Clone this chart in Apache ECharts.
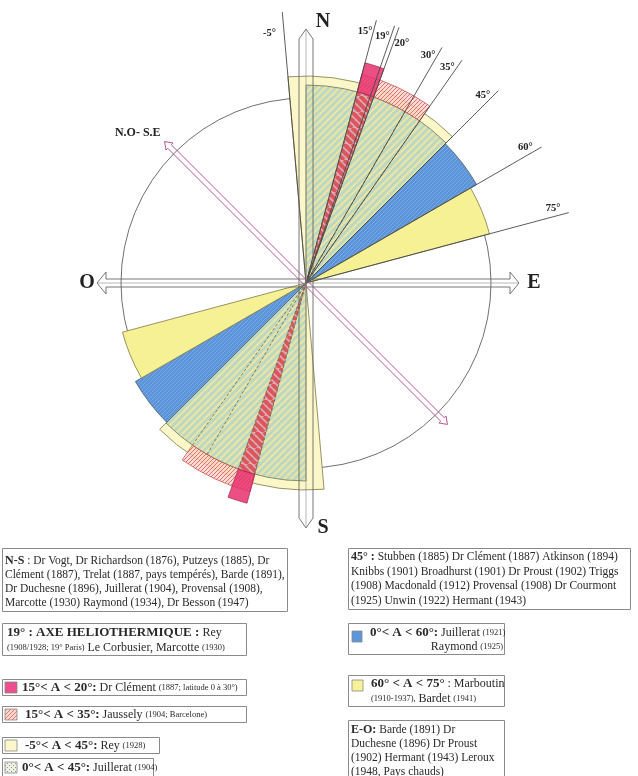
<!DOCTYPE html>
<html><head><meta charset="utf-8">
<script src="https://cdn.jsdelivr.net/npm/echarts@6/dist/echarts.min.js"></script>
<style>html,body{margin:0;padding:0;background:#fff}#c{width:638px;height:776px}</style>
</head><body><div id="c"></div>
<script>
// ---------- DATA (angles: degrees from north, clockwise; radii: radius-axis units) ----------
const sectorNames = ['Rey (1928)', 'Juillerat (1904)', 'Juillerat (1921), Raymond (1925)', 'Marboutin, Bardet', 'Jaussely (1904)', 'Dr Clément (1887)', 'Dr Clément (1887)'];
const sectorStart = [-5, 0, 45, 60, 15, 15, 15];
const sectorEnd   = [45, 45, 60, 75, 35, 20, 20];
const sectorInner = [0, 0, 0, 0, 198, 0, 198];
const sectorOuter = [207, 198, 197, 190, 216, 198, 228];
const rayAngles = [-5, 15, 19, 20, 30, 35, 45, 60, 75];
const rayLabels = ['-5°', '15°', '19°', '20°', '30°', '35°', '45°', '60°', '75°'];
const rayLength = 272;
const dashedAngles = [15, 20, 30, 35];
const dashedLength = 198;
const circleRadius = 185;
const compassAngles = [0, 90, 180, 270];
const compassLabels = ['N', 'E', 'S', 'O'];
const compassLengths = [254, 213, 245, 209];
const diagAngles = [315, 135];
const diagLabels = ['N.O- S.E', ''];
const diagLength = 200;

const legendLeft = [
  '{b|N-S} : Dr Vogt, Dr Richardson (1876), Putzeys (1885), Dr\nClément (1887), Trelat (1887, pays tempérés), Barde (1891),\nDr Duchesne (1896), Juillerat (1904), Provensal (1908),\nMarcotte (1930) Raymond (1934), Dr Besson (1947)',
  '{B|19° : AXE HELIOTHERMIQUE : }{t|Rey}\n{s|(1908/1928; 19° Paris)} {t|Le Corbusier, Marcotte} {s|(1930)}',
  '{B|15°< A < 20°:} {t|Dr Clément} {s|(1887; latitude 0 à 30°)}',
  '{B|15°< A < 35°:} {t|Jaussely} {s|(1904; Barcelone)}',
  '{B|-5°< A < 45°:} {t|Rey} {s|(1928)}',
  '{B|0°< A < 45°:} {t|Juillerat} {s|(1904)}'
];
const legendRight = [
  '{b|45° :} Stubben (1885) Dr Clément (1887) Atkinson (1894)\nKnibbs (1901) Broadhurst (1901) Dr Proust (1902) Triggs\n(1908) Macdonald (1912) Provensal (1908) Dr Courmont\n(1925) Unwin (1922) Hermant (1943)',
  '{B|0°< A < 60°:} {t|Juillerat} {s|(1921)}',
  '{t|Raymond} {s|(1925)}',
  '{B|60° < A < 75°} {t|: Marboutin}',
  '{s|(1910-1937),} {t|Bardet} {s|(1941)}',
  '{b|E-O:} Barde (1891) Dr\nDuchesne (1896) Dr Proust\n(1902) Hermant (1943) Leroux\n(1948, Pays chauds)'
];

// ---------- STYLE HELPERS ----------
const FONT = '"Liberation Serif", "Times New Roman", serif';
function makePattern(s, bg, color, lw, step, dir) {
  const c = document.createElement('canvas');
  c.width = s; c.height = s;
  const g = c.getContext('2d');
  g.fillStyle = bg; g.fillRect(0, 0, s, s);
  g.strokeStyle = color; g.lineWidth = lw;
  g.beginPath();
  if (dir === '/') {
    for (let k = -step; k <= 2 * s + step; k += step) { g.moveTo(k, 0); g.lineTo(k - s, s); }
  } else {
    for (let k = -s - step; k <= s + step; k += step) { g.moveTo(k, 0); g.lineTo(k + s, s); }
  }
  g.stroke();
  return { image: c, repeat: 'repeat' };
}
function makeDots(s, bg, color) {
  const c = document.createElement('canvas');
  c.width = s; c.height = s;
  const g = c.getContext('2d');
  g.fillStyle = bg; g.fillRect(0, 0, s, s);
  g.fillStyle = color;
  g.fillRect(1, 1, 1, 1); g.fillRect(3, 3, 1, 1);
  return { image: c, repeat: 'repeat' };
}
const greenPat = makePattern(14, '#bdd7c5', '#ebe6a0', 2, 7, '/');
const bluePat = makePattern(8, '#5b94d8', '#7eaee6', 0.8, 4, '/');
const redPat = makePattern(16, 'rgba(226,140,175,0.75)', 'rgba(222,52,68,0.9)', 4, 8, '\\');
const jausPat = makePattern(8, 'rgba(251,208,196,0.85)', '#de6464', 1, 4, '/');
const sectorStyles = [
  { fill: '#fbf7c8', stroke: '#8d8755', lineWidth: 0.9 },
  { fill: greenPat, stroke: '#707a55', lineWidth: 0.8 },
  { fill: bluePat, stroke: '#4d5a66', lineWidth: 0.8 },
  { fill: '#f7f195', stroke: '#8d8755', lineWidth: 0.9 },
  { fill: jausPat, stroke: '#c05050', lineWidth: 0.8, opacity: 0.9 },
  { fill: redPat, stroke: '#8a6a40', lineWidth: 0.7, opacity: 0.85, lineDash: [2, 2] },
  { fill: '#e8316f', stroke: '#a02050', lineWidth: 0.8, opacity: 0.85 }
];
const norm = a => ((a % 360) + 360) % 360;

function screenAngle(api, c, a) {
  const p = api.coord([rayLength, norm(a)]);
  return Math.atan2(p[1] - c[1], p[0] - c[0]);
}
function radPx(api, c, r) {
  const p = api.coord([r, 0]);
  return Math.hypot(p[0] - c[0], p[1] - c[1]);
}

// ---------- RENDERERS ----------
function renderCircle(params, api) {
  const c = api.coord([0, 0]);
  return { type: 'circle', shape: { cx: c[0], cy: c[1], r: radPx(api, c, api.value(0)) },
    style: { fill: 'none', stroke: '#707070', lineWidth: 1 } };
}
function renderSector(params, api) {
  const i = params.dataIndex;
  const c = api.coord([0, 0]);
  const a0 = api.value(0), a1 = api.value(1);
  const r0 = radPx(api, c, api.value(2)), r1 = radPx(api, c, api.value(3));
  const children = [0, 180].map(off => {
    const sa = screenAngle(api, c, a0 + off);
    let ea = screenAngle(api, c, a1 + off);
    if (ea <= sa) ea += 2 * Math.PI;
    return { type: 'sector', shape: { cx: c[0], cy: c[1], r0: r0, r: r1, startAngle: sa, endAngle: ea, clockwise: true },
      style: Object.assign({}, sectorStyles[i]) };
  });
  return { type: 'group', children };
}
function renderDashed(params, api) {
  const c = api.coord([0, 0]);
  const a = api.value(0);
  return { type: 'group', children: [0, 180].map(off => {
    const p = api.coord([dashedLength, norm(a + off)]);
    return { type: 'line', shape: { x1: c[0], y1: c[1], x2: p[0], y2: p[1] },
      style: { stroke: '#6d6a45', lineWidth: 0.8, lineDash: [3, 2] } };
  }) };
}
function renderRay(params, api) {
  const i = params.dataIndex;
  const c = api.coord([0, 0]);
  const a = api.value(0);
  const p = api.coord([rayLength, norm(a)]);
  const q = api.coord([258, norm(a)]);
  const t = a * Math.PI / 180;
  const side = rayLabels[i] === '20°' ? -1 : 1;
  const off = rayLabels[i] === '-5°' ? 14 : 8;
  const lx = q[0] - side * Math.cos(t) * off, ly = q[1] - side * Math.sin(t) * off + (rayLabels[i] === '-5°' ? 6 : 0);
  return { type: 'group', children: [
    { type: 'line', shape: { x1: c[0], y1: c[1], x2: p[0], y2: p[1] }, style: { stroke: '#4a4a4a', lineWidth: 0.9 } },
    { type: 'text', x: lx, y: ly, style: { text: rayLabels[i], fill: '#222', fontFamily: FONT, fontWeight: 'bold', fontSize: 10.5,
      align: 'center', verticalAlign: 'middle', textAlign: 'center', textVerticalAlign: 'middle' } }
  ] };
}
function arrowHalf(c, tip, w, hw, hl, pencil) {
  const dx = tip[0] - c[0], dy = tip[1] - c[1];
  const L = Math.hypot(dx, dy), ux = dx / L, uy = dy / L, nx = -uy, ny = ux;
  const bx = tip[0] - ux * hl, by = tip[1] - uy * hl;
  const pts = [[c[0] + nx * w, c[1] + ny * w], [bx + nx * w, by + ny * w]];
  if (!pencil) pts.push([bx + nx * hw, by + ny * hw]);
  pts.push([tip[0], tip[1]]);
  if (!pencil) pts.push([bx - nx * hw, by - ny * hw]);
  pts.push([bx - nx * w, by - ny * w], [c[0] - nx * w, c[1] - ny * w]);
  return pts;
}
function renderCompass(params, api) {
  const i = params.dataIndex;
  const c = api.coord([0, 0]);
  const a = api.value(0);
  const tip = api.coord([api.value(1), norm(a)]);
  const vertical = (a % 180) === 0;
  const pts = vertical ? arrowHalf(c, tip, 7, 7, 10, true) : arrowHalf(c, tip, 4, 11, 9, false);
  let lx, ly, al = 'center';
  if (vertical) { lx = tip[0] + 17; ly = tip[1] + (a === 0 ? -7 : 0); }
  else { lx = tip[0] + (a === 90 ? 15 : -10); ly = tip[1]; }
  return { type: 'group', children: [
    { type: 'polyline', shape: { points: pts }, style: { fill: null, stroke: '#666', lineWidth: 0.9 } },
    { type: 'line', shape: { x1: c[0], y1: c[1], x2: tip[0], y2: tip[1] }, style: { stroke: '#888', lineWidth: 0.6 } },
    { type: 'text', x: lx, y: ly, style: { text: compassLabels[i], fill: '#222', fontFamily: FONT, fontWeight: 'bold', fontSize: 20,
      align: al, verticalAlign: 'middle', textAlign: al, textVerticalAlign: 'middle' } }
  ] };
}
function renderDiag(params, api) {
  const i = params.dataIndex;
  const c = api.coord([0, 0]);
  const a = api.value(0);
  const tip = api.coord([api.value(1), norm(a)]);
  const pts = arrowHalf(c, tip, 2.5, 5, 7, false);
  const children = [{ type: 'polyline', shape: { points: pts }, style: { fill: null, stroke: '#b4568f', lineWidth: 1 } }];
  if (diagLabels[i]) children.push({ type: 'text', x: tip[0] - 4, y: tip[1] - 9, style: { text: diagLabels[i], fill: '#222', fontFamily: FONT,
    fontWeight: 'bold', fontSize: 12, align: 'right', verticalAlign: 'middle', textAlign: 'right', textVerticalAlign: 'middle' } });
  return { type: 'group', children };
}

// ---------- LEGEND (graphic annotations) ----------
const rich = {
  b: { fontWeight: 'bold', fontSize: 12, fontFamily: FONT, fill: '#2a2a2a', lineHeight: 14 },
  B: { fontWeight: 'bold', fontSize: 13, fontFamily: FONT, fill: '#2a2a2a', lineHeight: 14 },
  t: { fontSize: 12, fontFamily: FONT, fill: '#2a2a2a', lineHeight: 14 },
  s: { fontSize: 8.5, fontFamily: FONT, fill: '#2a2a2a', lineHeight: 14 }
};
function box(x, y, w, h) {
  return { type: 'rect', shape: { x, y, width: w, height: h }, style: { fill: '#fff', stroke: '#8a8a8a', lineWidth: 1 } };
}
function txt(x, y, s, lh, align) {
  return { type: 'text', x, y, style: { text: s, rich, fontFamily: FONT, fontSize: 11.5, fill: '#2a2a2a', lineHeight: lh || 14,
    align: align || 'left', textAlign: align || 'left', verticalAlign: 'top', textVerticalAlign: 'top' } };
}
function sw(x, y, w, h, fill) {
  return { type: 'rect', shape: { x, y, width: w, height: h }, style: { fill, stroke: '#888', lineWidth: 0.8 } };
}
const graphics = [
  box(2.5, 548.5, 285, 63), txt(5, 553.5, legendLeft[0]),
  box(2.5, 623.5, 244, 32), txt(7, 626, legendLeft[1], 15),
  box(2.5, 679.5, 244, 16), sw(5, 682, 12, 11, '#ec4f8e'), txt(22, 681, legendLeft[2]),
  box(2.5, 706.5, 244, 16), sw(5, 709, 12, 11, makePattern(8, '#fbd7cc', '#e07a72', 1, 4, '/')), txt(25, 708, legendLeft[3]),
  box(2.5, 737.5, 157, 16), sw(5, 740, 12, 11, '#fdf8cc'), txt(25, 739, legendLeft[4]),
  box(2.5, 758.5, 151, 18), sw(5, 762, 12, 11, makeDots(4, '#eef0e4', '#8a9a8a')), txt(22, 761, legendLeft[5]),
  box(348.5, 548.5, 282, 61), txt(351, 550, legendRight[0], 14.5),
  box(348.5, 623.5, 156, 31), sw(352, 631, 10, 11, '#5d96da'), txt(370, 626, legendRight[1]), txt(503, 640, legendRight[2], 14, 'right'),
  box(348.5, 675.5, 156, 31), sw(352, 680, 11, 11, '#f8f19a'), txt(371, 677, legendRight[3]), txt(371, 692, legendRight[4]),
  box(348.5, 720.5, 156, 70), txt(351, 723, legendRight[5])
];

// ---------- CHART ----------
const chart = echarts.init(document.getElementById('c'), null, { renderer: 'canvas' });
chart.setOption({
  backgroundColor: '#fff',
  animation: false,
  polar: { center: [306, 283], radius: rayLength },
  angleAxis: { type: 'value', min: 0, max: 360, startAngle: 90, clockwise: true, show: false },
  radiusAxis: { type: 'value', min: 0, max: rayLength, show: false },
  graphic: graphics,
  series: [
    { type: 'custom', coordinateSystem: 'polar', renderItem: renderCircle, data: [[circleRadius]], silent: true },
    { type: 'custom', coordinateSystem: 'polar', renderItem: renderSector, silent: true,
      data: sectorStart.map((s, i) => ({ name: sectorNames[i], value: [s, sectorEnd[i], sectorInner[i], sectorOuter[i]] })) },
    { type: 'custom', coordinateSystem: 'polar', renderItem: renderDashed, data: dashedAngles.map(a => [a]), silent: true },
    { type: 'custom', coordinateSystem: 'polar', renderItem: renderRay, data: rayAngles.map(a => [a]), silent: true },
    { type: 'custom', coordinateSystem: 'polar', renderItem: renderCompass, data: compassAngles.map((a, i) => [a, compassLengths[i]]), silent: true },
    { type: 'custom', coordinateSystem: 'polar', renderItem: renderDiag, data: diagAngles.map(a => [a, diagLength]), silent: true }
  ]
});
</script></body></html>
